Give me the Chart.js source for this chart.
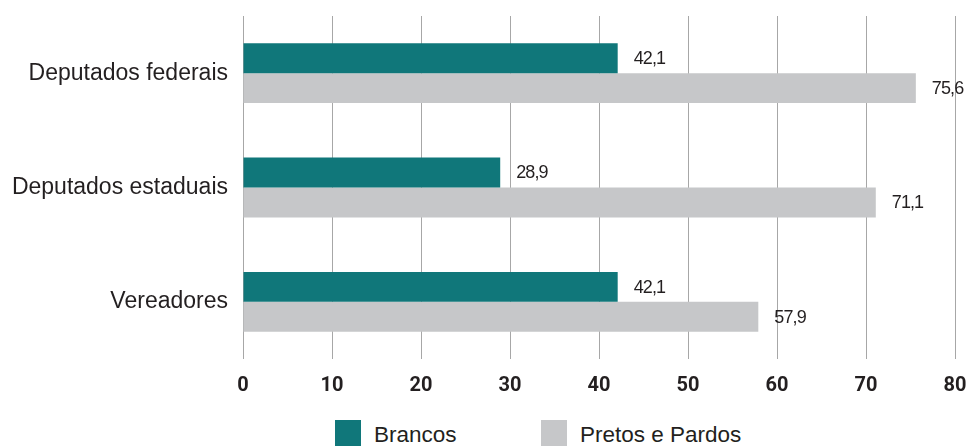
<!DOCTYPE html>
<html>
<head>
<meta charset="utf-8">
<script src="https://cdn.jsdelivr.net/npm/chart.js@4"></script>
<style>
  html, body { margin: 0; padding: 0; background: #fff; overflow: hidden; width: 969px; height: 446px; }
  #wrap { position: relative; width: 969px; height: 446px; }
  #legend { position: absolute; top: 420px; left: 0; width: 969px; margin: 0; padding: 0; list-style: none;
            font-family: "Liberation Sans", Arial, sans-serif; font-size: 22.5px; color: #231f20; }
  #legend li { position: absolute; top: 0; display: flex; align-items: flex-start; white-space: nowrap; }
  #legend .box { display: inline-block; width: 26px; height: 26px; margin-right: 13px; }
  #legend .txt { line-height: 26px; margin-top: 2px; }
</style>
</head>
<body>
<div id="wrap">
  <canvas id="chart" width="969" height="400"></canvas>
  <ul id="legend"></ul>
</div>
<script>
// categories and series
var categories = ['Deputados federais', 'Deputados estaduais', 'Vereadores'];
var brancos = [42.1, 28.9, 42.1];
var pretosPardos = [75.6, 71.1, 57.9];
var xTicks = [0, 10, 20, 30, 40, 50, 60, 70, 80];

var textColor = '#231f20';
var gridColor = '#a7a7a7';

// writes the value after each bar end, with a comma as decimal mark
var valueLabels = {
    id: 'valueLabels',
    afterDatasetsDraw: function (chart) {
        var ctx = chart.ctx;
        ctx.save();
        ctx.font = '18px "Liberation Sans", Arial, sans-serif';
        ctx.fillStyle = textColor;
        ctx.textAlign = 'left';
        ctx.textBaseline = 'middle';
        try { ctx.letterSpacing = '-0.9px'; } catch (e) {}
        chart.data.datasets.forEach(function (ds, i) {
            chart.getDatasetMeta(i).data.forEach(function (bar, j) {
                var txt = ds.data[j].toFixed(1).replace('.', ',');
                ctx.fillText(txt, bar.x + 16, bar.y + 1);
            });
        });
        ctx.restore();
    }
};

// html legend built from the chart's own legend items
var legendPositions = [335, 541];
var htmlLegend = {
    id: 'htmlLegend',
    afterUpdate: function (chart) {
        var ul = document.getElementById('legend');
        ul.innerHTML = '';
        var items = chart.options.plugins.legend.labels.generateLabels(chart);
        items.forEach(function (item, i) {
            var li = document.createElement('li');
            li.style.left = legendPositions[i] + 'px';
            var box = document.createElement('span');
            box.className = 'box';
            box.style.background = item.fillStyle;
            var txt = document.createElement('span');
            txt.className = 'txt';
            txt.textContent = item.text;
            li.appendChild(box);
            li.appendChild(txt);
            ul.appendChild(li);
        });
    }
};

var ctx = document.getElementById('chart').getContext('2d');
var chartInstance = new Chart(ctx, {
    type: 'bar',
    data: {
        labels: categories,
        datasets: [{
            label: 'Brancos',
            data: brancos,
            backgroundColor: '#10777a',
            borderWidth: 0
        }, {
            label: 'Pretos e Pardos',
            data: pretosPardos,
            backgroundColor: '#c6c7c9',
            borderWidth: 0
        }]
    },
    options: {
        indexAxis: 'y',
        responsive: false,
        animation: false,
        layout: { padding: { top: 16, right: 14, left: 0, bottom: 0 } },
        datasets: {
            bar: { barPercentage: 1, categoryPercentage: 0.524 }
        },
        scales: {
            x: {
                min: 0,
                max: 80,
                afterBuildTicks: function (scale) {
                    scale.ticks = xTicks.map(function (v) { return { value: v }; });
                },
                afterFit: function (scale) {
                    scale.height = 41;
                    scale.paddingLeft = 0;
                    scale.paddingRight = 0;
                },
                grid: { color: gridColor, lineWidth: 1, drawTicks: false },
                border: { display: false },
                ticks: {
                    padding: 15,
                    color: textColor,
                    font: { family: 'Roboto, "Liberation Sans", sans-serif', size: 20, weight: 'bold' }
                }
            },
            y: {
                afterFit: function (scale) {
                    scale.width = 243;
                    scale.paddingTop = 0;
                    scale.paddingBottom = 0;
                },
                grid: { display: false, drawTicks: false },
                border: { display: false },
                ticks: {
                    padding: 15,
                    color: textColor,
                    font: { family: '"Liberation Sans", Arial, sans-serif', size: 23 }
                }
            }
        },
        plugins: {
            legend: { display: false },
            tooltip: { enabled: false }
        }
    },
    plugins: [valueLabels, htmlLegend]
});
</script>
</body>
</html>
